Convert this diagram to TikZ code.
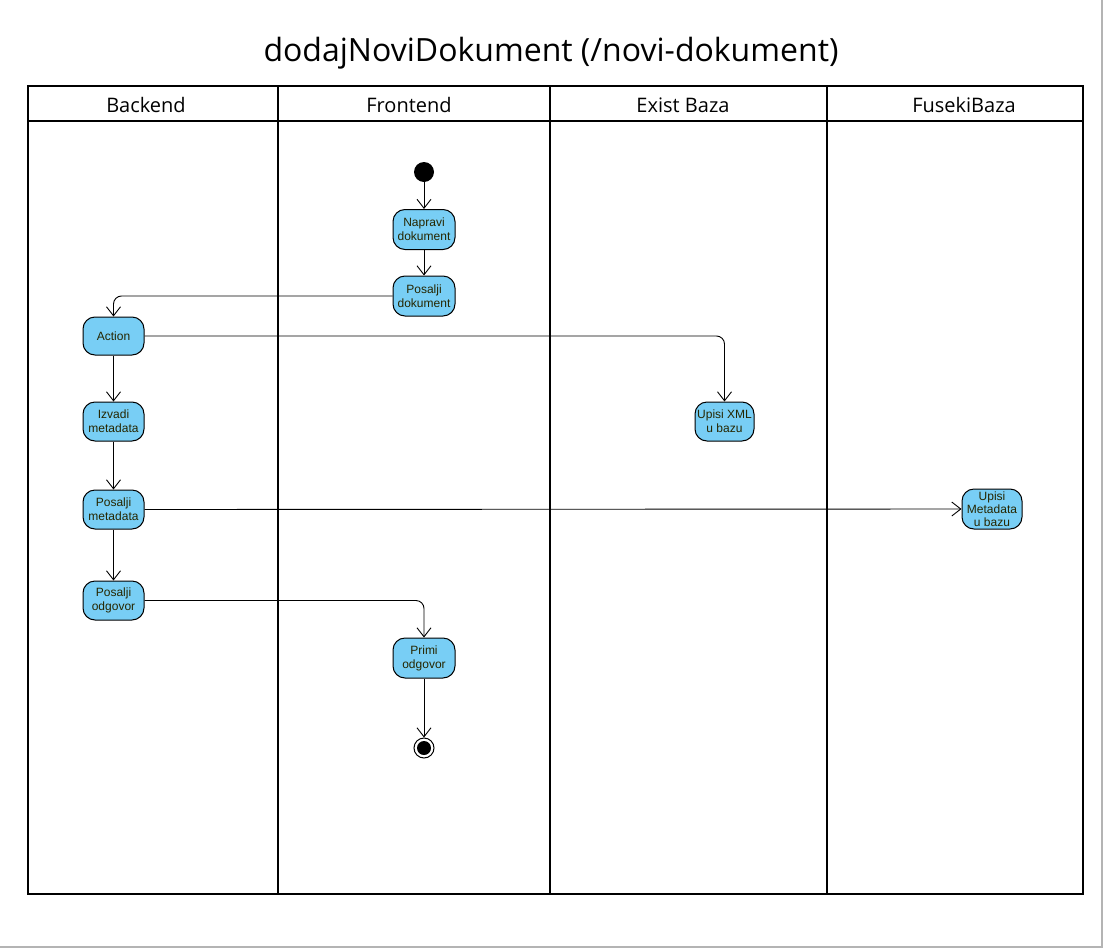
\documentclass[tikz,border=0pt]{standalone}
\usepackage{fontspec}
\setmainfont{Liberation Sans}
\newfontfamily\headfont{Open Sans}
\usetikzlibrary{arrows.meta}
\definecolor{actfill}{RGB}{120,206,245}
\definecolor{acttext}{HTML}{262600}
\definecolor{framegray}{HTML}{B4B4B4}
\tikzset{
  act/.style={draw=black, line width=1pt, fill=actfill, rounded corners=12pt,
    minimum width=62pt, minimum height=40pt, inner sep=0pt, align=center,
    text=acttext, font=\fontsize{12}{14}\selectfont},
  conn/.style={draw=black, line width=0.9pt, rounded corners=8pt,
    -{Straight Barb[length=9pt,width=14pt,line width=0.9pt]}},
  lane/.style={draw=black, line width=2pt},
  head/.style={font=\headfont\fontsize{20}{24}\selectfont, anchor=center},
}
\begin{document}
\begin{tikzpicture}[x=1pt,y=-1pt]
\useasboundingbox (0,0) rectangle (1104,948);
\fill[white] (0,0) rectangle (1104,948);
% page shadow edges
\draw[framegray, line width=2pt] (1102,0) -- (1102,946.5) -- (0,946.5);
% title
\node[font=\headfont\fontsize{32}{36}\selectfont] (title) at (551,53) {dodajNoviDokument (/novi-dokument)};
% pool and lanes
\draw[lane] (28,86) rectangle (1083,894);
\draw[lane] (28,121) -- (1083,121);
\draw[lane] (278,86) -- (278,894);
\draw[lane] (550,86) -- (550,894);
\draw[lane] (827,86) -- (827,894);
\node[head] (hb) at (146,105) {Backend};
\node[head] (hf) at (409,105) {Frontend};
\node[head] (he) at (683,105) {Exist Baza};
\node[head] (hk) at (964,105) {FusekiBaza};
% nodes
\node[circle, fill=black, minimum size=20pt, inner sep=0pt] (start) at (424,172) {};
\node[act] (napravi) at (424,229.5) {Napravi\\dokument};
\node[act] (posdok) at (424,296) {Posalji\\dokument};
\node[act, minimum width=61pt, minimum height=38pt] (action) at (113.5,336) {Action};
\node[act, minimum width=61pt, minimum height=39pt] (izvadi) at (113.5,421.5) {Izvadi\\metadata};
\node[act, minimum width=61pt, minimum height=39pt] (posmeta) at (113.5,509.5) {Posalji\\metadata};
\node[act, minimum width=61pt, minimum height=39pt] (posodg) at (113.5,600.5) {Posalji\\odgovor};
\node[act, minimum width=59pt, minimum height=39pt] (xml) at (724.5,421.5) {Upisi XML\\u bazu};
\node[act, minimum width=60pt, minimum height=40pt, font=\fontsize{12}{13}\selectfont] (fuseki) at (992,509) {Upisi\\Metadata\\u bazu};
\node[act] (primi) at (424,658) {Primi\\odgovor};
\node[circle, draw=black, line width=1pt, fill=white, minimum size=20pt, inner sep=0pt] (end) at (424,748) {};
\fill[black] (end.center) circle (7pt);
% connectors
\draw[conn] (start) -- (napravi);
\draw[conn] (napravi) -- (posdok);
\draw[conn] (posdok.west) -| (action.north);
\draw[conn] (action.east) -| (xml.north);
\draw[conn] (action) -- (izvadi);
\draw[conn] (izvadi) -- (posmeta);
\draw[conn] (posmeta.east) -- (fuseki.west);
\draw[conn] (posmeta) -- (posodg);
\draw[conn] (posodg.east) -| (primi.north);
\draw[conn] (primi) -- (end);
\end{tikzpicture}
\end{document}
